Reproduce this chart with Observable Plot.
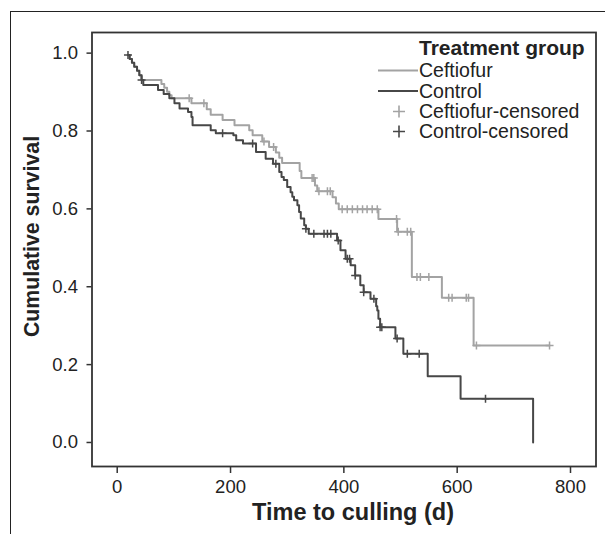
<!DOCTYPE html>
<html><head><meta charset="utf-8">
<script src="https://cdn.jsdelivr.net/npm/d3@7"></script>
<script src="https://cdn.jsdelivr.net/npm/@observablehq/plot@0.6"></script>
<style>
body{margin:0;background:#fff;}
#wrap{position:relative;width:605px;height:534px;overflow:hidden;background:#fff;}
#outer{position:absolute;left:10px;top:11px;width:700px;height:600px;border-left:1.6px solid #222;border-top:1.6px solid #222;pointer-events:none;}
#wrap svg{position:absolute;left:0;top:0;}
</style></head><body>
<div id="wrap"><div id="outer"></div></div>
<script>
const groups = ["Ceftiofur", "Control"];
const ceftiofurTime = [19, 22, 26, 30, 35, 39, 43, 78, 83, 88, 92, 96, 131, 158, 165, 186, 207, 233, 239, 256, 268, 280, 286, 291, 322, 325, 349, 353, 380, 386, 391, 461, 494, 520, 573, 629, 763];
const ceftiofurSurv = [0.995, 0.985, 0.975, 0.965, 0.955, 0.943, 0.931, 0.921, 0.911, 0.901, 0.892, 0.884, 0.871, 0.856, 0.842, 0.828, 0.815, 0.802, 0.789, 0.773, 0.759, 0.745, 0.731, 0.718, 0.697, 0.679, 0.660, 0.645, 0.630, 0.614, 0.599, 0.574, 0.541, 0.425, 0.372, 0.249, 0.249];
const controlTime = [19, 22, 26, 30, 35, 39, 43, 46, 72, 82, 92, 101, 110, 125, 131, 133, 165, 174, 205, 210, 222, 245, 262, 275, 286, 290, 294, 300, 306, 309, 312, 318, 321, 324, 330, 333, 338, 388, 394, 403, 412, 420, 429, 435, 447, 457, 459, 461, 464, 491, 505, 548, 606, 734];
const controlSurv = [0.995, 0.985, 0.975, 0.965, 0.955, 0.943, 0.931, 0.918, 0.905, 0.895, 0.884, 0.871, 0.858, 0.849, 0.836, 0.815, 0.802, 0.794, 0.789, 0.776, 0.768, 0.746, 0.729, 0.716, 0.695, 0.682, 0.674, 0.656, 0.643, 0.631, 0.622, 0.609, 0.592, 0.575, 0.558, 0.549, 0.536, 0.519, 0.494, 0.472, 0.455, 0.429, 0.404, 0.386, 0.369, 0.350, 0.339, 0.318, 0.296, 0.267, 0.228, 0.170, 0.112, 0.0];
const ceftiofurCensored = [127, 153, 259, 276, 344, 347, 356, 371, 376, 397, 406, 415, 424, 433, 441, 450, 459, 493, 496, 512, 518, 529, 535, 550, 585, 591, 616, 620, 634, 763];
const controlCensored = [19, 43, 186, 239, 280, 333, 347, 365, 371, 377, 390, 406, 410, 420, 435, 453, 464, 467, 494, 512, 533, 650];
const xTicks = [0, 200, 400, 600, 800];
const yTicks = [0.0, 0.2, 0.4, 0.6, 0.8, 1.0];
const xTitle = "Time to culling (d)";
const yTitle = "Cumulative survival";
const legendTitle = "Treatment group";
const colors = {Ceftiofur: "#a3a3a3", Control: "#474747"};
const font = "'Liberation Sans', Arial, Helvetica, sans-serif";

function steps(group, T, S) { return T.map((t, i) => ({group, time: t, surv: S[i]})); }
function survAt(T, S, t) { let s = S[0]; for (let i = 0; i < T.length; i++) if (T[i] <= t) s = S[i]; return s; }
function censored(group, C, T, S) { return C.map(t => ({group, time: t, surv: survAt(T, S, t)})); }

const lineCef = steps("Ceftiofur", ceftiofurTime, ceftiofurSurv);
const lineCon = steps("Control", controlTime, controlSurv);
const cenCef = censored("Ceftiofur", ceftiofurCensored, ceftiofurTime, ceftiofurSurv);
const cenCon = censored("Control", controlCensored, controlTime, controlSurv);

const thinPlus = {
  draw(ctx, size) {
    const r = Math.sqrt(size / Math.PI);
    ctx.moveTo(-r, 0); ctx.lineTo(r, 0);
    ctx.moveTo(0, -r); ctx.lineTo(0, r);
  }
};

const chart = Plot.plot({
  width: 605, height: 534,
  marginTop: 32, marginRight: 9.5, marginBottom: 68, marginLeft: 91.5,
  style: {fontFamily: font, background: "transparent", color: "#222", overflow: "visible"},
  x: {domain: [-44.5, 845]},
  y: {domain: [-0.0617, 1.053]},
  marks: [
    Plot.axisX({ticks: xTicks, tickSize: 7, tickPadding: 6, fontSize: 18.5, label: null, strokeWidth: 1.5, stroke: "#333"}),
    Plot.axisY({ticks: yTicks, tickSize: 5, tickPadding: 9, fontSize: 18.5, tickFormat: d3.format(".1f"), label: null, strokeWidth: 1.5, stroke: "#333"}),
    Plot.line(lineCef, {x: "time", y: "surv", curve: "step-after", stroke: colors.Ceftiofur, strokeWidth: 2}),
    Plot.dot(cenCef, {x: "time", y: "surv", symbol: thinPlus, r: 4, stroke: colors.Ceftiofur, strokeWidth: 1.5, fill: "none"}),
    Plot.line(lineCon, {x: "time", y: "surv", curve: "step-after", stroke: colors.Control, strokeWidth: 2}),
    Plot.dot(cenCon, {x: "time", y: "surv", symbol: thinPlus, r: 4, stroke: colors.Control, strokeWidth: 1.5, fill: "none"}),
    Plot.frame({stroke: "#333", strokeWidth: 1.8}),
    Plot.text([xTitle], {frameAnchor: "bottom", lineAnchor: "bottom", textAnchor: "middle", dx: 9, dy: 53, fontSize: 23.5, fontWeight: "bold", fill: "#222"}),
    Plot.text([yTitle], {frameAnchor: "left", rotate: -90, textAnchor: "middle", lineAnchor: "middle", dx: -60, dy: -13, fontSize: 21.3, fontWeight: "bold", fill: "#222"})
  ]
});
document.getElementById("wrap").appendChild(chart);

// legend
const svg = d3.select(chart);
const L = svg.append("g").attr("font-family", font).attr("fill", "#222").attr("text-anchor", "start");
L.append("text").attr("x", 419).attr("y", 55).attr("font-size", 21).attr("font-weight", "bold").attr("text-anchor", "start").text(legendTitle);
const items = [
  {label: groups[0], kind: "line", color: colors.Ceftiofur},
  {label: groups[1], kind: "line", color: colors.Control},
  {label: groups[0] + "-censored", kind: "plus", color: colors.Ceftiofur},
  {label: groups[1] + "-censored", kind: "plus", color: colors.Control}
];
const baselines = [77, 97.5, 118, 138];
items.forEach((it, i) => {
  const b = baselines[i], cy = b - 6.5;
  if (it.kind === "line") {
    L.append("line").attr("x1", 378).attr("x2", 418).attr("y1", cy).attr("y2", cy)
      .attr("stroke", it.color).attr("stroke-width", 2);
  } else {
    L.append("path").attr("d", `M${393},${cy}H${405}M${399},${cy - 6}V${cy + 6}`)
      .attr("stroke", it.color).attr("stroke-width", 1.6).attr("fill", "none");
  }
  L.append("text").attr("x", 419).attr("y", b).attr("font-size", 19.5).attr("text-anchor", "start").text(it.label);
});
</script>
</body></html>
